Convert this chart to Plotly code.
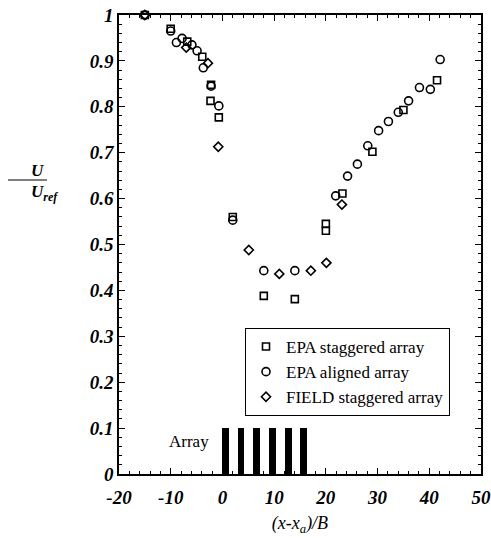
import plotly.graph_objects as go

# EPA staggered array (squares)
epa_stag_x = [-15, -10, -6.8, -3.9, -2.2, -2.3, -0.7, 2.0, 8.0, 14.0, 20.0, 20.0, 23.2, 29.0, 35.0, 41.5]
epa_stag_y = [1.0, 0.97, 0.942, 0.909, 0.848, 0.813, 0.777, 0.56, 0.388, 0.381, 0.545, 0.53, 0.611, 0.702, 0.793, 0.858]

# EPA aligned array (circles)
epa_align_x = [-15, -10, -8.9, -7.8, -5.9, -4.9, -3.7, -2.2, -0.7, 2.0, 8.0, 14.0, 21.9, 24.2, 26.1, 28.1, 30.2, 32.1, 34.0, 36.0, 38.1, 40.2, 42.1]
epa_align_y = [1.0, 0.965, 0.94, 0.949, 0.935, 0.922, 0.885, 0.845, 0.802, 0.553, 0.443, 0.443, 0.606, 0.649, 0.675, 0.715, 0.748, 0.768, 0.788, 0.813, 0.842, 0.838, 0.903]

# FIELD staggered array (diamonds)
field_x = [-15, -7.0, -2.8, -0.8, 5.1, 11.0, 17.1, 20.1, 23.1]
field_y = [1.0, 0.929, 0.895, 0.713, 0.488, 0.436, 0.443, 0.46, 0.587]

# Array buildings
array_x = [0.65, 3.6, 6.6, 9.65, 12.75, 15.65]
array_h = [0.1, 0.1, 0.1, 0.1, 0.1, 0.1]

y_ticks = [0, 0.1, 0.2, 0.3, 0.4, 0.5, 0.6, 0.7, 0.8, 0.9, 1]
y_labels = ["0", "0.1", "0.2", "0.3", "0.4", "0.5", "0.6", "0.7", "0.8", "0.9", "1"]
x_ticks = [-20, -10, 0, 10, 20, 30, 40, 50]
x_labels = ["-20", "-10", "0", "10", "20", "30", "40", "50"]

SERIF = "Liberation Serif"

fig = go.Figure()

fig.add_trace(go.Bar(
    x=array_x, y=array_h, width=1.3, base=0,
    marker=dict(color="black", line=dict(width=0)),
    showlegend=False, hoverinfo="skip"))

fig.add_trace(go.Scatter(
    x=epa_stag_x, y=epa_stag_y, mode="markers", name="EPA staggered array",
    marker=dict(symbol="square-open", size=7, color="black", line=dict(width=1.6)),
    cliponaxis=False))
fig.add_trace(go.Scatter(
    x=epa_align_x, y=epa_align_y, mode="markers", name="EPA aligned array",
    marker=dict(symbol="circle-open", size=8, color="black", line=dict(width=1.6)),
    cliponaxis=False))
fig.add_trace(go.Scatter(
    x=field_x, y=field_y, mode="markers", name="FIELD staggered array",
    marker=dict(symbol="diamond-open", size=7, color="black", line=dict(width=1.6)),
    cliponaxis=False))

axis_common = dict(
    showgrid=False, zeroline=False, showline=True, linecolor="black", linewidth=1.5,
    mirror="allticks", ticks="inside", ticklen=6, tickwidth=1.2, tickcolor="black",
    automargin=False,
    tickfont=dict(family=SERIF, size=19, color="black", style="italic", weight="bold"),
)

fig.update_xaxes(
    range=[-20, 50], tickvals=x_ticks, ticktext=x_labels, ticklabelstandoff=5,
    minor=dict(dtick=2, ticks="inside", ticklen=3, tickcolor="black", tickwidth=1),
    title=dict(text="<i>(x-x<sub>a</sub>)/B</i>", font=dict(family=SERIF, size=18, color="black"), standoff=10),
    **axis_common)
fig.update_yaxes(
    range=[0, 1], tickvals=y_ticks, ticktext=y_labels,
    minor=dict(dtick=0.02, ticks="inside", ticklen=3, tickcolor="black", tickwidth=1),
    **axis_common)

fig.add_annotation(xref="x", yref="y", x=-6.5, y=0.07, text="Array", showarrow=False,
                   font=dict(family=SERIF, size=17, color="black"))

# y-axis label as a fraction
fig.add_annotation(xref="paper", yref="paper", x=-0.25, y=(474 - 170) / 459, text="<i><b>U</b></i>",
                   showarrow=False, font=dict(family=SERIF, size=17, color="black"))
fig.add_annotation(xref="paper", yref="paper", x=-0.25, y=(474 - 193) / 459, text="<i><b>U<sub>ref</sub></b></i>",
                   showarrow=False, font=dict(family=SERIF, size=17, color="black"))
fig.add_shape(type="line", xref="paper", yref="paper",
              x0=(8 - 119) / 362, x1=(47 - 119) / 362,
              y0=(474 - 180) / 459, y1=(474 - 180) / 459,
              line=dict(color="black", width=1.2))

fig.update_layout(
    width=491, height=538,
    margin=dict(l=119, r=10, t=15, b=64),
    paper_bgcolor="white", plot_bgcolor="white",
    font=dict(family=SERIF, color="black"),
    showlegend=True,
    legend=dict(x=(245 - 119) / 362, y=(474 - 328) / 459, xanchor="left", yanchor="top",
                bgcolor="white", bordercolor="black", borderwidth=1,
                font=dict(family=SERIF, size=17, color="black"),
                tracegroupgap=0, itemwidth=30),
    bargap=0,
)

fig.write_html("out.html")
